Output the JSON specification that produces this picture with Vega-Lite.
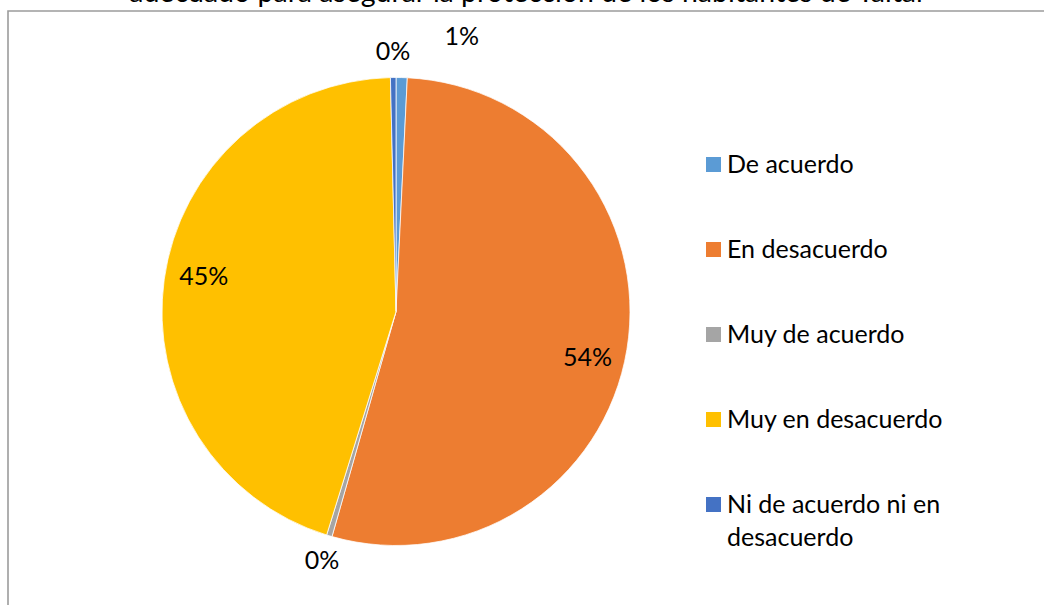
{
  "$schema": "https://vega.github.io/schema/vega-lite/v6.json",
  "width": 1036,
  "height": 594,
  "autosize": {"type": "none"},
  "padding": {"left": 8, "top": 11, "right": 0, "bottom": 0},
  "background": "white",
  "config": {
    "view": {"stroke": null},
    "font": "Lato",
    "style": {"guide-label": {"lineHeight": 33}}
  },
  "title": {
    "text": "adecuado para asegurar la protección de los habitantes de Taltal",
    "fontSize": 28.5,
    "font": "Lato",
    "fontWeight": "normal",
    "color": "#000000",
    "anchor": "middle",
    "frame": "group",
    "offset": 5,
    "dy": 25.5,
    "baseline": "alphabetic"
  },
  "data": {
    "values": [
      {"cat": "De acuerdo", "value": 0.0077},
      {"cat": "En desacuerdo", "value": 0.5364},
      {"cat": "Muy de acuerdo", "value": 0.0038},
      {"cat": "Muy en desacuerdo", "value": 0.4483},
      {"cat": "Ni de acuerdo ni en desacuerdo", "value": 0.0038}
    ]
  },
  "layer": [
    {
      "data": {"values": [{"frame": "border"}]},
      "mark": {"type": "rect", "fill": null, "fillOpacity": 0, "stroke": "#9c9c9c", "strokeWidth": 1.6, "x": 0, "y": 0, "x2": {"expr": "width + 20"}, "y2": {"expr": "height + 20"}},
      "encoding": {}
    },
    {
      "mark": {"type": "arc", "outerRadius": 234, "x": 388, "y": 300.5, "stroke": "white", "strokeWidth": 0.75},
      "encoding": {
        "theta": {"field": "value", "type": "quantitative", "stack": true},
        "order": {"field": "cat", "type": "ordinal", "sort": "ascending"},
        "color": {
          "field": "cat",
          "type": "nominal",
          "scale": {
            "domain": ["De acuerdo", "En desacuerdo", "Muy de acuerdo", "Muy en desacuerdo", "Ni de acuerdo ni en desacuerdo"],
            "range": ["#5B9BD5", "#ED7D31", "#A5A5A5", "#FFC000", "#4472C4"]
          },
          "legend": {
            "orient": "none",
            "legendX": 693,
            "legendY": 141,
            "title": null,
            "padding": 0,
            "symbolType": "square",
            "symbolSize": 225,
            "symbolStrokeWidth": 0,
            "symbolOpacity": 1,
            "labelFontSize": 25,
            "labelFont": "Lato",
            "labelColor": "#000000",
            "labelOffset": 1,
            "labelLimit": 400,
            "rowPadding": 59,
            "labelExpr": "datum.label == 'Ni de acuerdo ni en desacuerdo' ? ['Ni de acuerdo ni en', 'desacuerdo'] : datum.label"
          }
        }
      }
    },
    {
      "mark": {"type": "text", "radius": 194, "x": 388, "y": 300.5, "dy": 15, "fontSize": 25, "font": "Lato", "color": "#000000"},
      "encoding": {
        "theta": {"field": "value", "type": "quantitative", "stack": true},
        "order": {"field": "cat", "type": "ordinal", "sort": "ascending"},
        "text": {"condition": {"test": "datum.cat === 'En desacuerdo'", "field": "value", "type": "quantitative", "format": ".0%"}, "value": ""}
      }
    },
    {
      "mark": {"type": "text", "radius": 194, "x": 388, "y": 300.5, "dy": -8, "fontSize": 25, "font": "Lato", "color": "#000000"},
      "encoding": {
        "theta": {"field": "value", "type": "quantitative", "stack": true},
        "order": {"field": "cat", "type": "ordinal", "sort": "ascending"},
        "text": {"condition": {"test": "datum.cat === 'Muy en desacuerdo'", "field": "value", "type": "quantitative", "format": ".0%"}, "value": ""}
      }
    },
    {
      "mark": {"type": "text", "radius": 260, "x": 388, "y": 300.5, "fontSize": 25, "font": "Lato", "color": "#000000"},
      "encoding": {
        "theta": {"field": "value", "type": "quantitative", "stack": true},
        "order": {"field": "cat", "type": "ordinal", "sort": "ascending"},
        "text": {"condition": {"test": "datum.cat === 'Muy de acuerdo' || datum.cat === 'Ni de acuerdo ni en desacuerdo'", "field": "value", "type": "quantitative", "format": ".0%"}, "value": ""}
      }
    },
    {
      "mark": {"type": "text", "radius": 275, "x": 388, "y": 300.5, "dx": 59, "fontSize": 25, "font": "Lato", "color": "#000000"},
      "encoding": {
        "theta": {"field": "value", "type": "quantitative", "stack": true},
        "order": {"field": "cat", "type": "ordinal", "sort": "ascending"},
        "text": {"condition": {"test": "datum.cat === 'De acuerdo'", "field": "value", "type": "quantitative", "format": ".0%"}, "value": ""}
      }
    }
  ]
}
